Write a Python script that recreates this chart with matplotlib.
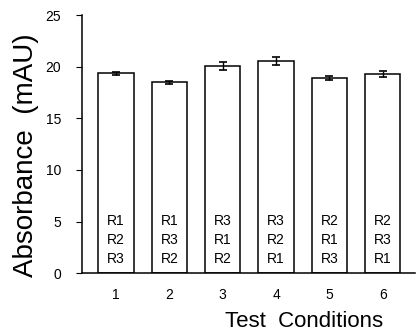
import matplotlib
matplotlib.use("Agg")
import matplotlib.pyplot as plt

conditions = [1, 2, 3, 4, 5, 6]
absorbance = [19.4, 18.5, 20.1, 20.6, 18.9, 19.3]
errors = [0.15, 0.15, 0.4, 0.4, 0.2, 0.3]
orders = [["R1", "R2", "R3"], ["R1", "R3", "R2"], ["R3", "R1", "R2"],
          ["R3", "R2", "R1"], ["R2", "R1", "R3"], ["R2", "R3", "R1"]]

plt.rcParams['font.family'] = ['Liberation Sans', 'DejaVu Sans']
fig = plt.figure(figsize=(4.16, 3.35), dpi=100)
ax = fig.add_axes([0.197, 0.185, 0.80, 0.769])

ax.bar(conditions, absorbance, width=0.66, color='white', edgecolor='black', linewidth=1.1,
       yerr=errors, capsize=3, error_kw=dict(elinewidth=1.0, capthick=1.2, ecolor='black'))

for x, order in zip(conditions, orders):
    for k, lab in enumerate(order):
        ax.text(x, 5.05 - k * 1.85, lab, ha='center', va='center', fontsize=10)

ax.set_xlim(0.36, 6.6)
ax.set_ylim(0, 25)
ax.set_yticks([0, 5, 10, 15, 20, 25])
ax.set_xticks(conditions)
ax.tick_params(axis='x', length=0, pad=11, labelsize=10)
ax.tick_params(axis='y', direction='out', length=4, pad=11, labelsize=10)
ax.spines['top'].set_visible(False)
ax.spines['right'].set_visible(False)
ax.spines['left'].set_linewidth(1.1)
ax.spines['bottom'].set_linewidth(1.1)
ax.set_ylabel('Absorbance  (mAU)', fontsize=20)
ax.yaxis.set_label_coords(-0.168, 0.458)
ax.yaxis.label.set_va('center')
ax.set_xlabel('Test  Conditions', fontsize=16)
ax.xaxis.set_label_coords(0.667, -0.19)
ax.xaxis.label.set_va('center')

fig.savefig('out.png', dpi=100)
